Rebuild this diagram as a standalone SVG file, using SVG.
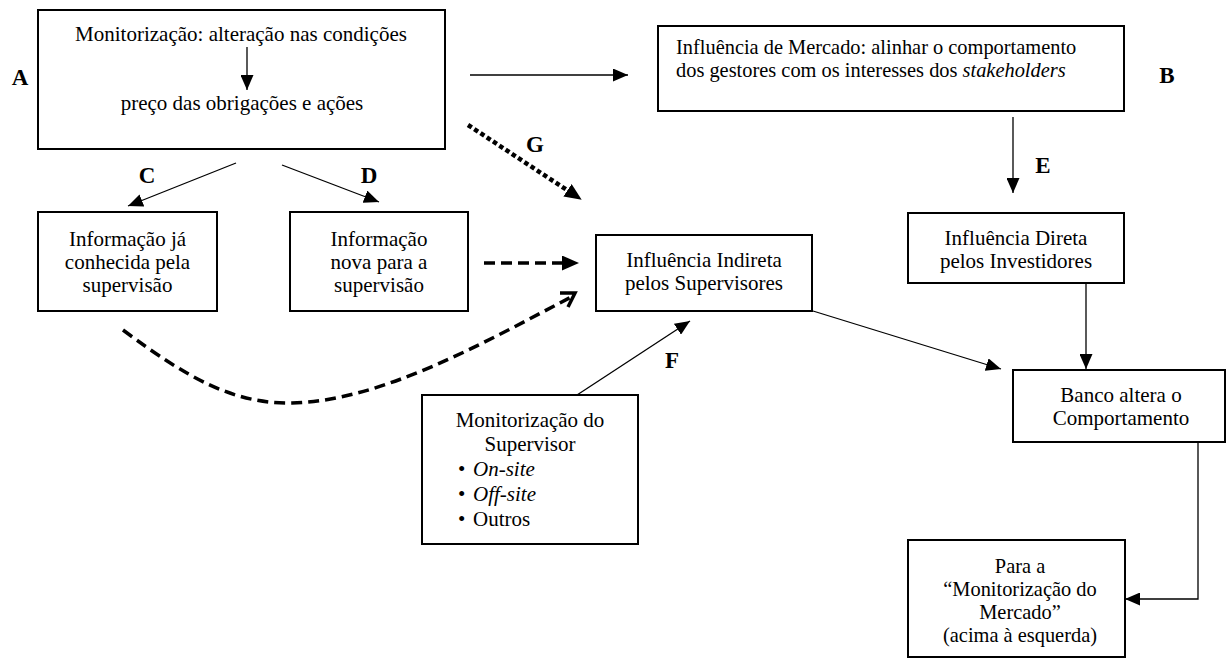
<svg xmlns="http://www.w3.org/2000/svg" width="1227" height="659" viewBox="0 0 1227 659">
<style>
  .box { fill: #fff; stroke: #000; stroke-width: 2; }
  .t { font-family: "Liberation Serif", "Times New Roman", serif; font-size: 21px; fill: #000; }
  .s { font-size: 20.4px; }
  .c { text-anchor: middle; }
  .lbl { font-family: "Liberation Serif", "Times New Roman", serif; font-size: 23px; font-weight: bold; fill: #000; text-anchor: middle; }
  .ln { fill: none; stroke: #000; stroke-width: 1.3; }
  .dash { fill: none; stroke: #000; stroke-width: 3.5; stroke-dasharray: 11 6; }
  .dot { fill: none; stroke: #000; stroke-width: 4.5; stroke-dasharray: 4.5 3; }
</style>
<defs>
  <marker id="ah" viewBox="0 0 15 13" markerWidth="15" markerHeight="13" refX="15" refY="6.5" orient="auto" markerUnits="userSpaceOnUse">
    <path d="M0,0 L15,6.5 L0,13 z" fill="#000"/>
  </marker>
  <marker id="ahb" viewBox="0 0 17 15" markerWidth="17" markerHeight="15" refX="3" refY="7.5" orient="auto" markerUnits="userSpaceOnUse">
    <path d="M0,0 L17,7.5 L0,15 z" fill="#000"/>
  </marker>
</defs>
<rect width="1227" height="659" fill="#fff"/>

<g id="connectors">
  <line class="ln" x1="247" y1="47" x2="247" y2="90" marker-end="url(#ah)"/>
  <line class="ln" x1="470" y1="75" x2="628" y2="75" marker-end="url(#ah)"/>
  <line class="ln" x1="236" y1="163" x2="128" y2="206" marker-end="url(#ah)"/>
  <line class="ln" x1="282" y1="165" x2="379" y2="202" marker-end="url(#ah)"/>
  <line class="dot" x1="468" y1="125" x2="570" y2="192" marker-end="url(#ahb)"/>
  <line class="dash" x1="484" y1="263" x2="565" y2="263" marker-end="url(#ahb)"/>
  <path class="dash" d="M123,330 C190,380 235,404 292,403 C380,401 480,345 573,296"/>
  <path d="M560,293 L575,293 L568,307" fill="none" stroke="#000" stroke-width="3.5" stroke-linejoin="miter"/>
  <line class="ln" x1="1013" y1="117" x2="1013" y2="193" marker-end="url(#ah)"/>
  <line class="ln" x1="1086" y1="284" x2="1086" y2="369" marker-end="url(#ah)"/>
  <line class="ln" x1="813" y1="311" x2="1001" y2="369" marker-end="url(#ah)"/>
  <line class="ln" x1="577" y1="395" x2="690" y2="321" marker-end="url(#ah)"/>
  <polyline class="ln" points="1198,442 1198,599 1125,599" marker-end="url(#ah)"/>
</g>

<g id="labels">
  <text class="lbl" x="20" y="85">A</text>
  <text class="lbl" x="1167" y="83">B</text>
  <text class="lbl" x="147" y="183">C</text>
  <text class="lbl" x="369" y="183">D</text>
  <text class="lbl" x="1043" y="173">E</text>
  <text class="lbl" x="672" y="368">F</text>
  <text class="lbl" x="535" y="152">G</text>
</g>

<g id="nodeA">
  <rect class="box" x="38" y="10" width="407" height="139" style="fill:none"/>
  <text class="t c" x="241" y="41">Monitorização: alteração nas condições</text>
  <text class="t c" x="242" y="110">preço das obrigações e ações</text>
</g>

<g id="nodeB">
  <rect class="box" x="658" y="26" width="466" height="85"/>
  <text class="t s" x="676" y="54">Influência de Mercado: alinhar o comportamento</text>
  <text class="t s" x="676" y="77">dos gestores com os interesses dos <tspan font-style="italic">stakeholders</tspan></text>
</g>

<g id="nodeC">
  <rect class="box" x="38" y="212" width="179" height="99"/>
  <text class="t c" x="127.5" y="246">Informação já</text>
  <text class="t c" x="127.5" y="269">conhecida pela</text>
  <text class="t c" x="127.5" y="292">supervisão</text>
</g>

<g id="nodeD">
  <rect class="box" x="290" y="212" width="178" height="99"/>
  <text class="t c" x="379" y="246">Informação</text>
  <text class="t c" x="379" y="269">nova para a</text>
  <text class="t c" x="379" y="292">supervisão</text>
</g>

<g id="nodeIndireta">
  <rect class="box" x="596" y="235" width="216" height="76"/>
  <text class="t c" x="704" y="267">Influência Indireta</text>
  <text class="t c" x="704" y="290">pelos Supervisores</text>
</g>

<g id="nodeDireta">
  <rect class="box" x="908" y="213" width="216" height="70"/>
  <text class="t c" x="1016" y="245">Influência Direta</text>
  <text class="t c" x="1016" y="268">pelos Investidores</text>
</g>

<g id="nodeSupervisor">
  <rect class="box" x="422" y="395" width="216" height="149"/>
  <text class="t c" x="530" y="427">Monitorização do</text>
  <text class="t c" x="530" y="451">Supervisor</text>
  <text class="t" x="458" y="476">•<tspan x="473" font-style="italic">On-site</tspan></text>
  <text class="t" x="458" y="501">•<tspan x="473" font-style="italic">Off-site</tspan></text>
  <text class="t" x="458" y="526">•<tspan x="473">Outros</tspan></text>
</g>

<g id="nodeBanco">
  <rect class="box" x="1013" y="370" width="212" height="72"/>
  <text class="t c" x="1121" y="402">Banco altera o</text>
  <text class="t c" x="1121" y="425">Comportamento</text>
</g>

<g id="nodePara">
  <rect class="box" x="908" y="540" width="217" height="117"/>
  <text class="t s c" x="1020" y="573">Para a</text>
  <text class="t s c" x="1020" y="596">“Monitorização do</text>
  <text class="t s c" x="1020" y="619">Mercado”</text>
  <text class="t s c" x="1020" y="642">(acima à esquerda)</text>
</g>
</svg>
